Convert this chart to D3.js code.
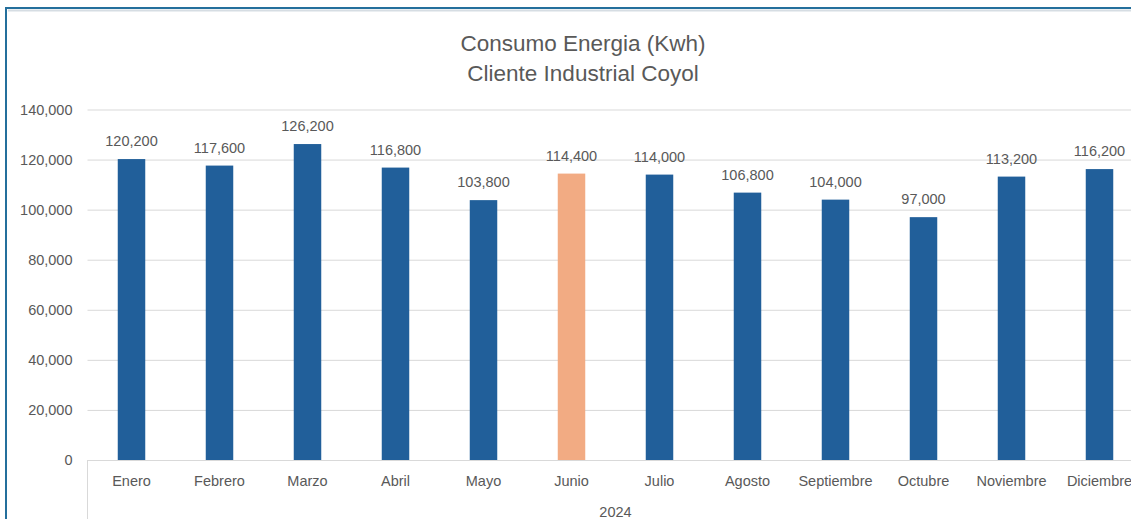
<!DOCTYPE html>
<html>
<head>
<meta charset="utf-8">
<script src="https://cdn.jsdelivr.net/npm/d3@7"></script>
<style>
  html, body { margin: 0; padding: 0; background: #ffffff; }
  svg { display: block; }
  text { font-family: "Liberation Sans", Arial, sans-serif; fill: #595959; }
</style>
</head>
<body>
<svg id="chart" width="1131" height="519"></svg>
<script>
const titleLines = ["Consumo Energia (Kwh)", "Cliente Industrial Coyol"];
const months = ["Enero","Febrero","Marzo","Abril","Mayo","Junio","Julio","Agosto","Septiembre","Octubre","Noviembre","Diciembre"];
const consumo = [120200,117600,126200,116800,103800,114400,114000,106800,104000,97000,113200,116200];
const highlighted = ["Junio"];
const yearLabel = "2024";
const yTicks = [0,20000,40000,60000,80000,100000,120000,140000];

const svg = d3.select("#chart");
const W = 1131, H = 519;
const plot = { left: 87.5, right: 87.5 + 12 * 88, top: 109.5, bottom: 460 };

// frame
svg.append("rect").attr("x", 0).attr("y", 0).attr("width", W).attr("height", H).attr("fill", "#ffffff");
svg.append("line").attr("x1", 8).attr("x2", W).attr("y1", 10.5).attr("y2", 10.5)
  .attr("stroke", "#d6dde3").attr("stroke-width", 2);
svg.append("line").attr("x1", 5).attr("x2", W).attr("y1", 8).attr("y2", 8)
  .attr("stroke", "#246f9c").attr("stroke-width", 2);
svg.append("line").attr("x1", 6).attr("x2", 6).attr("y1", 7).attr("y2", H)
  .attr("stroke", "#246f9c").attr("stroke-width", 2);

const x = d3.scaleBand().domain(months).range([plot.left, plot.right])
  .paddingInner(0.6875).paddingOuter(0.34375);
const y = d3.scaleLinear().domain([0, 140000]).range([plot.bottom, plot.top]);
const fmt = d3.format(",");

// gridlines
const grid = svg.append("g")
  .attr("transform", `translate(${plot.left},0)`)
  .call(d3.axisLeft(y).tickValues(yTicks).tickSize(-(plot.right - plot.left)).tickFormat(""));
grid.select(".domain").remove();
grid.selectAll("line").attr("stroke", "#d9d9d9").attr("stroke-width", 1);

// y tick labels
const yAxis = svg.append("g")
  .attr("transform", `translate(${plot.left},0)`)
  .call(d3.axisLeft(y).tickValues(yTicks).tickSize(0).tickPadding(15).tickFormat(fmt));
yAxis.select(".domain").remove();
yAxis.selectAll("text").attr("font-size", "14.5px").attr("fill", "#595959")
  .style("font-family", "'Liberation Sans', Arial, sans-serif");

// bars
svg.append("g").selectAll("rect").data(months).join("rect")
  .attr("x", d => x(d))
  .attr("width", x.bandwidth())
  .attr("y", (d, i) => y(consumo[i]))
  .attr("height", (d, i) => y(0) - y(consumo[i]))
  .attr("fill", d => highlighted.includes(d) ? "#f2ab83" : "#215f9a");

// value labels
svg.append("g").selectAll("text").data(months).join("text")
  .attr("x", d => x(d) + x.bandwidth() / 2)
  .attr("y", (d, i) => y(consumo[i]) - 13)
  .attr("text-anchor", "middle")
  .attr("font-size", "14.5px")
  .text((d, i) => fmt(consumo[i]));

// category axis
const xAxis = svg.append("g")
  .attr("transform", `translate(0,${plot.bottom})`)
  .call(d3.axisBottom(x).tickSize(0).tickPadding(16));
xAxis.select(".domain").attr("stroke", "#d9d9d9").attr("d", `M${plot.left},0.5H${plot.right}`);
xAxis.selectAll("text").attr("font-size", "14.5px").attr("fill", "#595959")
  .style("font-family", "'Liberation Sans', Arial, sans-serif");
svg.append("line").attr("x1", plot.left).attr("x2", plot.left)
  .attr("y1", plot.bottom).attr("y2", H)
  .attr("stroke", "#d9d9d9").attr("stroke-width", 1);

// group label
svg.append("text")
  .attr("x", (plot.left + plot.right) / 2)
  .attr("y", 517)
  .attr("text-anchor", "middle")
  .attr("font-size", "14.5px")
  .text(yearLabel);

// title
svg.append("g").selectAll("text").data(titleLines).join("text")
  .attr("x", 583)
  .attr("y", (d, i) => 51 + i * 30)
  .attr("text-anchor", "middle")
  .attr("font-size", "22.5px")
  .text(d => d);
</script>
</body>
</html>
